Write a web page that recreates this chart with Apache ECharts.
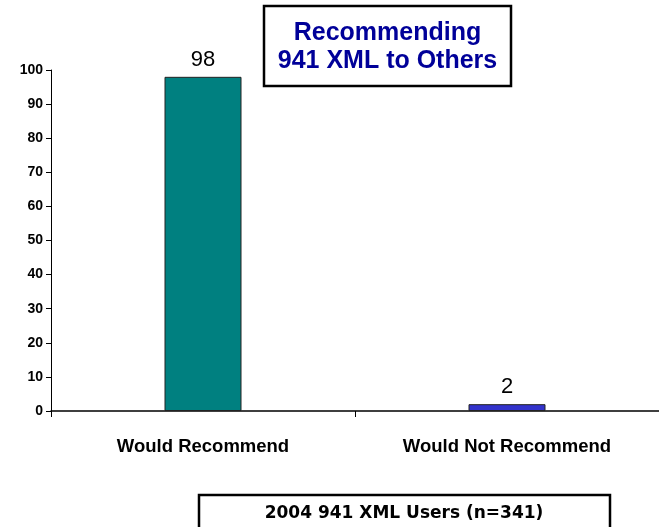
<!DOCTYPE html>
<html><head><meta charset="utf-8">
<script src="https://cdn.jsdelivr.net/npm/echarts@6/dist/echarts.min.js"></script>
<style>html,body{margin:0;padding:0;background:#fff}#c{width:659px;height:527px}</style>
</head><body><div id="c"></div>
<script>
const categories = ['Would Recommend', 'Would Not Recommend'];
const values = [98, 2];
const barColors = ['#008080', '#3333CC'];
const titleLines = ['Recommending', '941 XML to Others'];
const footnote = '2004 941 XML Users (n=341)';

const chart = echarts.init(document.getElementById('c'));
chart.setOption({
  animation: false,
  grid: { left: 51, right: -2, top: 70, bottom: 116, containLabel: false },
  xAxis: {
    type: 'category', data: categories,
    axisLine: { lineStyle: { color: '#000', width: 1.5 } },
    axisTick: { show: true, length: 6, inside: false, lineStyle: { color: '#000' } },
    axisLabel: { color: '#000', fontFamily: 'Liberation Sans, Arial', fontWeight: 'bold', fontSize: 18.5, margin: 26 }
  },
  yAxis: {
    type: 'value', min: 0, max: 100, interval: 10,
    splitLine: { show: false },
    axisLine: { show: true, lineStyle: { color: '#000', width: 1 } },
    axisTick: { show: true, length: 5, lineStyle: { color: '#000' } },
    axisLabel: { color: '#000', fontFamily: 'Liberation Sans, Arial', fontWeight: 'bold', fontSize: 14, margin: 8 }
  },
  series: [{
    type: 'bar', barWidth: 77,
    data: values.map((v, i) => ({ value: v, itemStyle: { color: barColors[i] } })),
    itemStyle: { borderColor: '#222', borderWidth: 1 },
    label: { show: true, position: 'top', distance: 6, color: '#000', fontFamily: 'Liberation Sans, Arial', fontSize: 22 }
  }],
  graphic: [
    { type: 'rect', shape: { x: 264, y: 6, width: 247, height: 80 }, style: { fill: '#fff', stroke: '#000', lineWidth: 2.5 } },
    { type: 'text', x: 387.5, y: 47, style: { text: titleLines.join('\n'), fill: '#000099', font: 'bold 25px "Liberation Sans", Arial', align: 'center', verticalAlign: 'middle', lineHeight: 28 } },
    { type: 'rect', shape: { x: 199, y: 495, width: 411, height: 40 }, style: { fill: '#fff', stroke: '#000', lineWidth: 2.5 } },
    { type: 'text', x: 404, y: 514, style: { text: footnote, fill: '#000', font: 'bold 17px "DejaVu Sans", Verdana', align: 'center', verticalAlign: 'middle' } }
  ]
});
</script></body></html>
